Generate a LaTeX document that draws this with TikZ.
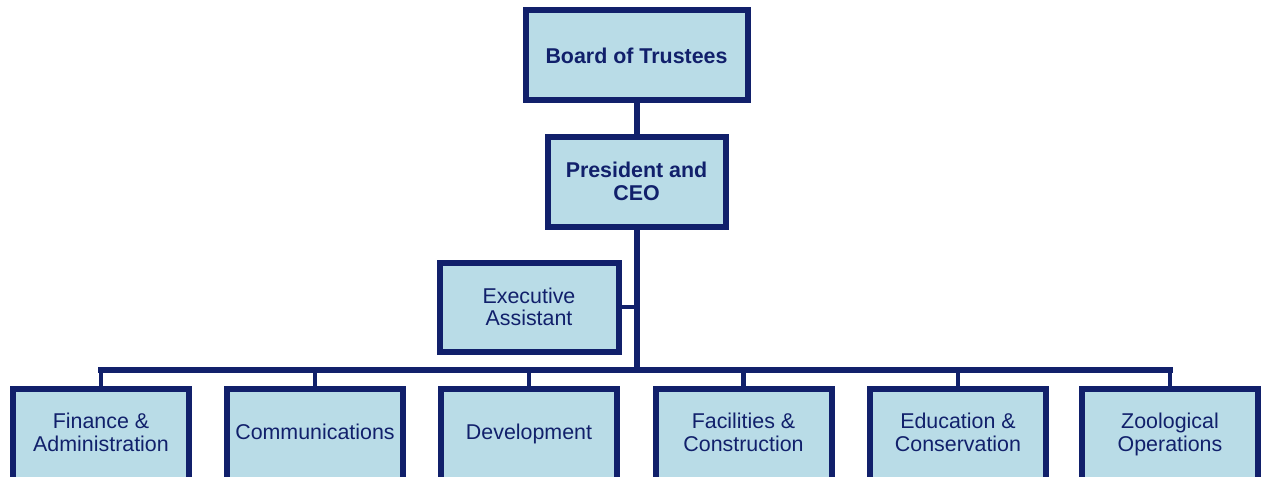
\documentclass[tikz,border=0pt]{standalone}
\usepackage{fontspec}
\setmainfont{Liberation Sans}
\definecolor{boxfill}{RGB}{185,220,231}
\definecolor{navy}{RGB}{17,32,107}
\newcommand{\lifted}[1]{\raisebox{1.75pt}{\begin{tabular}{@{}c@{}}#1\end{tabular}}}
\begin{document}
\begin{tikzpicture}[x=0.5pt,y=-0.5pt,
  orgbox/.style={draw=navy,fill=boxfill,line width=3pt,inner sep=0pt,
    minimum height=45pt,text=navy,align=center,
    font=\fontsize{10.7pt}{11.2pt}\selectfont},
  topbox/.style={orgbox,font=\fontsize{10.7pt}{11.2pt}\selectfont\bfseries},
  link/.style={draw=navy,line width=3pt},
  drop/.style={draw=navy,line width=2.4pt,line join=miter},
  buslink/.style={draw=navy,line width=3pt,line cap=rect},
  assist/.style={draw=navy,line width=2pt}]
\useasboundingbox (0,0) rectangle (1262,476);
\clip (0,0) rectangle (1262,476);
\node[topbox,minimum width=111pt] (board) at (636.5,55.5) {Board of Trustees};
\node[topbox,minimum width=89pt] (pres) at (636.5,181.5) {President and\\CEO};
\node[orgbox,minimum width=89.5pt,minimum height=44.5pt] (exec) at (529,307) {Executive\\Assistant};
\coordinate (bus) at (636.5,370);
\foreach \n/\x/\t in {fin/101/{Finance \&\\Administration},
                      com/315/{Communications},
                      dev/529/{Development},
                      fac/743.5/{Facilities \&\\Construction},
                      edu/958/{Education \&\\Conservation},
                      zoo/1170/{Zoological\\Operations}}{
  \node[orgbox,minimum width=88pt,minimum height=46.5pt] (\n) at (\x,435.5) {\lifted{\t}};
}
\draw[link] (board) -- (pres);
\draw[link] (pres.south) -- (bus);
\draw[assist] (exec.east) -- (exec.east -| pres.south);
\foreach \n in {fin,com,dev,fac,edu,zoo}{
  \draw[drop] (\n.north) -- (\n.north |- bus);
}
\draw[buslink] (fin.north |- bus) -- (zoo.north |- bus);
\end{tikzpicture}
\end{document}
